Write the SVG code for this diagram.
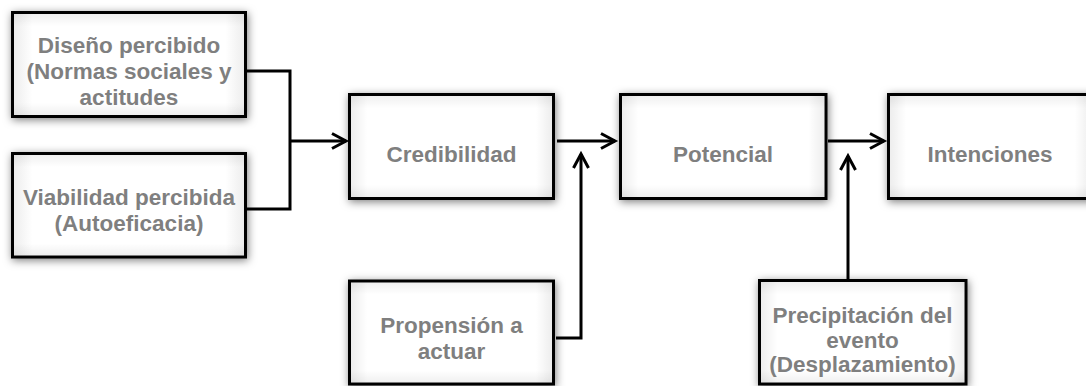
<svg xmlns="http://www.w3.org/2000/svg" width="1086" height="386" viewBox="0 0 1086 386">
  <style>
    .box { fill: #ffffff; stroke: #000000; stroke-width: 3; }
    .lbl { font-family: "Liberation Sans", Arial, sans-serif; font-weight: bold; font-size: 22.5px; fill: #7f7f7f; text-anchor: middle; }
    .wire { fill: none; stroke: #000000; stroke-width: 3; }
    .arrow { marker-end: url(#chev); }
  </style>
  <defs>
    <!-- soft outer shadow under every box -->
    <filter id="soft" x="-20%" y="-30%" width="140%" height="160%">
      <feDropShadow dx="1" dy="2" stdDeviation="4.5" flood-color="#000000" flood-opacity="0.5"/>
    </filter>
    <!-- faint shade along the inside edges of a box -->
    <linearGradient id="shadeH" x1="0" y1="0" x2="1" y2="0">
      <stop offset="0" stop-color="#000" stop-opacity="0.07"/>
      <stop offset="0.08" stop-color="#000" stop-opacity="0"/>
      <stop offset="0.92" stop-color="#000" stop-opacity="0"/>
      <stop offset="1" stop-color="#000" stop-opacity="0.07"/>
    </linearGradient>
    <linearGradient id="shadeV" x1="0" y1="0" x2="0" y2="1">
      <stop offset="0" stop-color="#000" stop-opacity="0.06"/>
      <stop offset="0.12" stop-color="#000" stop-opacity="0"/>
      <stop offset="0.88" stop-color="#000" stop-opacity="0"/>
      <stop offset="1" stop-color="#000" stop-opacity="0.06"/>
    </linearGradient>
    <marker id="chev" markerUnits="userSpaceOnUse" markerWidth="20" markerHeight="20" viewBox="-16 -10 20 20" refX="0" refY="0" orient="auto" overflow="visible">
      <path d="M-14,-7.5 L0,0 L-14,7.5" fill="none" stroke="#000000" stroke-width="3" stroke-linejoin="miter"/>
    </marker>
  </defs>

  <g id="connectors">
    <path class="wire" d="M246,71 H290 V209 H246"/>
    <path class="wire arrow" d="M290,141 H346"/>
    <path class="wire arrow" d="M557,141 H615"/>
    <path class="wire arrow" d="M556,338 H581 V154"/>
    <path class="wire arrow" d="M828,141 H884"/>
    <path class="wire arrow" d="M848,280 V156"/>
  </g>

  <g id="diseno">
    <rect class="box" x="12.5" y="12.5" width="233" height="104" filter="url(#soft)"/>
    <rect x="14" y="14" width="230" height="101" fill="url(#shadeH)"/>
    <rect x="14" y="14" width="230" height="101" fill="url(#shadeV)"/>
    <text class="lbl" x="129" y="53">Diseño percibido</text>
    <text class="lbl" x="129" y="79">(Normas sociales y</text>
    <text class="lbl" x="129" y="105">actitudes</text>
  </g>

  <g id="viabilidad">
    <rect class="box" x="12.5" y="153.5" width="233" height="103.5" filter="url(#soft)"/>
    <rect x="14" y="155" width="230" height="100.5" fill="url(#shadeH)"/>
    <rect x="14" y="155" width="230" height="100.5" fill="url(#shadeV)"/>
    <text class="lbl" x="129" y="205">Viabilidad percibida</text>
    <text class="lbl" x="129" y="231">(Autoeficacia)</text>
  </g>

  <g id="credibilidad">
    <rect class="box" x="349.5" y="94.5" width="204" height="104" filter="url(#soft)"/>
    <rect x="351" y="96" width="201" height="101" fill="url(#shadeH)"/>
    <rect x="351" y="96" width="201" height="101" fill="url(#shadeV)"/>
    <text class="lbl" x="451.5" y="161.5">Credibilidad</text>
  </g>

  <g id="potencial">
    <rect class="box" x="620.5" y="94.5" width="205.5" height="104" filter="url(#soft)"/>
    <rect x="622" y="96" width="202.5" height="101" fill="url(#shadeH)"/>
    <rect x="622" y="96" width="202.5" height="101" fill="url(#shadeV)"/>
    <text class="lbl" x="723" y="161.5">Potencial</text>
  </g>

  <g id="intenciones">
    <rect class="box" x="888.5" y="94.5" width="204" height="104" filter="url(#soft)"/>
    <rect x="890" y="96" width="201" height="101" fill="url(#shadeH)"/>
    <rect x="890" y="96" width="201" height="101" fill="url(#shadeV)"/>
    <text class="lbl" x="990" y="161.5">Intenciones</text>
  </g>

  <g id="propension">
    <rect class="box" x="349.5" y="281" width="204" height="103" filter="url(#soft)"/>
    <rect x="351" y="282.5" width="201" height="100" fill="url(#shadeH)"/>
    <rect x="351" y="282.5" width="201" height="100" fill="url(#shadeV)"/>
    <text class="lbl" x="451.5" y="333">Propensión a</text>
    <text class="lbl" x="451.5" y="359">actuar</text>
  </g>

  <g id="precipitacion">
    <rect class="box" x="759.5" y="280.5" width="206.5" height="103.5" filter="url(#soft)"/>
    <rect x="761" y="282" width="203.5" height="100.5" fill="url(#shadeH)"/>
    <rect x="761" y="282" width="203.5" height="100.5" fill="url(#shadeV)"/>
    <text class="lbl" x="862.5" y="323">Precipitación del</text>
    <text class="lbl" x="862.5" y="348">evento</text>
    <text class="lbl" x="862.5" y="372">(Desplazamiento)</text>
  </g>
</svg>
